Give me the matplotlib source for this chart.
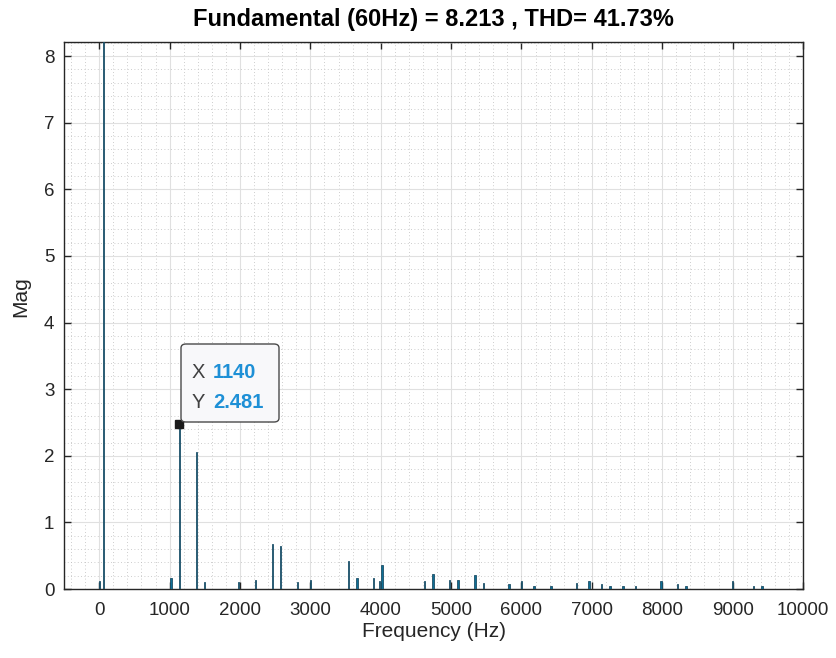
import matplotlib.pyplot as plt
from matplotlib.ticker import AutoMinorLocator, MultipleLocator
from matplotlib.patches import FancyBboxPatch

plt.rcParams['font.family'] = ['Liberation Sans', 'DejaVu Sans']

# harmonic spectrum
freq = [0, 60, 1020, 1140, 1380, 1500, 1980, 2220, 2460, 2580, 2820, 3000,
        3540, 3660, 3900, 3980, 4020, 4620, 4740, 4980, 5100, 5340, 5460,
        5820, 6000, 6180, 6420, 6780, 6960, 7140, 7260, 7440, 7620,
        7980, 8220, 8340, 9000, 9300, 9420]
mag = [0.12, 8.213, 0.16, 2.481, 2.06, 0.11, 0.10, 0.14, 0.67, 0.64, 0.10, 0.13,
       0.42, 0.16, 0.16, 0.12, 0.36, 0.12, 0.23, 0.14, 0.13, 0.21, 0.09,
       0.07, 0.12, 0.05, 0.05, 0.09, 0.12, 0.08, 0.04, 0.04, 0.05,
       0.12, 0.08, 0.05, 0.12, 0.05, 0.05]

tip_x, tip_y = 1140, 2.481
title = 'Fundamental (60Hz) = 8.213 , THD= 41.73%'

fig = plt.figure(figsize=(8.36, 6.58), dpi=100)
ax = fig.add_axes([0.0766, 0.1048, 0.8839, 0.8314])

ax.bar(freq, mag, width=20, color='#0f6f95', edgecolor='#1d4f66', linewidth=0.6, zorder=3)

ax.set_xlim(-500, 10000)
ax.set_ylim(0, 8.213)
ax.xaxis.set_major_locator(MultipleLocator(1000))
ax.yaxis.set_major_locator(MultipleLocator(1))
ax.xaxis.set_minor_locator(AutoMinorLocator(5))
ax.yaxis.set_minor_locator(AutoMinorLocator(5))
ax.grid(which='major', color='#e0e0e0', linewidth=0.8, zorder=0)
ax.grid(which='minor', color='#bdbdbd', linestyle=(0, (1, 3)), linewidth=0.6, zorder=0)
ax.set_axisbelow(True)

ax.tick_params(which='both', direction='in', top=True, right=True, colors='#262626',
               labelsize=13.5)
ax.tick_params(which='major', length=5, width=1)
ax.tick_params(axis='x', which='major', pad=9)
ax.tick_params(axis='y', which='major', pad=7)
ax.tick_params(which='minor', length=0)
for s in ax.spines.values():
    s.set_color('#262626')
    s.set_linewidth(1)

ax.set_xlabel('Frequency (Hz)', fontsize=15, color='#262626', labelpad=2.5)
ax.set_ylabel('Mag', fontsize=15, color='#262626')
ax.yaxis.set_label_coords(-0.046, 0.534)
ax.set_title(title, fontsize=17, fontweight='bold', color='#000000', pad=11.5)

# data tip
ax.plot([tip_x], [tip_y], marker='s', color='#1a1a1a', markersize=6, zorder=5)
box = FancyBboxPatch((181 / 836, 1 - 422 / 658), 98 / 836, 78 / 658,
                     boxstyle='round,pad=0,rounding_size=0.006',
                     transform=fig.transFigure, facecolor='#f8f8fa', edgecolor='#4a4a4a',
                     linewidth=1, zorder=6)
fig.patches.append(box)
fig.text(192 / 836, 1 - 373 / 658, 'X', fontsize=14.5, color='#404040', va='center', zorder=7)
fig.text(213 / 836, 1 - 373 / 658, '1140', fontsize=14.5, color='#1e90d6',
         fontweight='bold', va='center', zorder=7)
fig.text(192 / 836, 1 - 403 / 658, 'Y', fontsize=14.5, color='#404040', va='center', zorder=7)
fig.text(213 / 836, 1 - 403 / 658, '2.481', fontsize=14.5, color='#1e90d6',
         fontweight='bold', va='center', zorder=7)

fig.savefig('out.png', dpi=100)
